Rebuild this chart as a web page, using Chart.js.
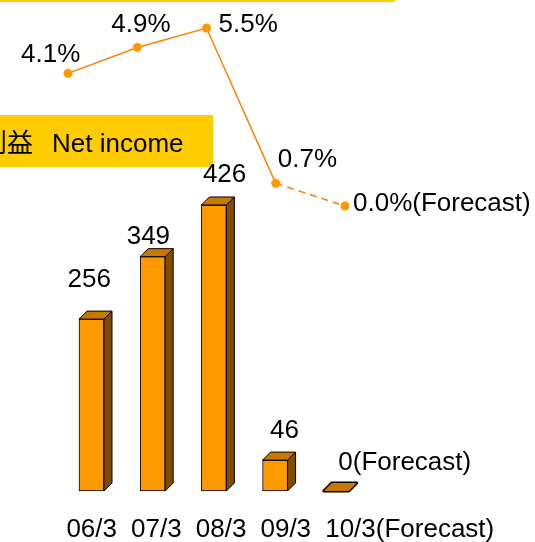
<!DOCTYPE html>
<html>
<head>
<meta charset="utf-8">
<script src="https://cdn.jsdelivr.net/npm/chart.js@4/dist/chart.umd.min.js"></script>
<style>
  body { margin: 0; background: #fff; }
</style>
</head>
<body>
<canvas id="incomeChart" width="535" height="542"></canvas>
<script>
// ---- data ----
const periods = ['06/3', '07/3', '08/3', '09/3', '10/3(Forecast)'];
const netIncome = [256, 349, 426, 46, 0];
const netIncomeText = ['256', '349', '426', '46', '0(Forecast)'];
const margin = [4.1, 4.9, 5.5, 0.7, 0.0];
const marginText = ['4.1%', '4.9%', '5.5%', '0.7%', '0.0%(Forecast)'];
const titleJa = '利益';
const titleEn = 'Net income';

const FONT = '26px "Liberation Sans", Arial, sans-serif';
const FONT_JA = '26px "Noto Sans CJK JP", sans-serif';
const YELLOW = '#FFCC00';

// label offsets (left edge / baseline) relative to each mark, hand placed like the slide
const marginOffsets = [[-47, -11], [-26, -15], [12, 4], [2, -16], [8, 5]];
const barOffsets = [[-24, -32], [-26, -13], [-11, -23], [-5, -22], [2, -21]];
const DEPTH = 8;

const decorations = {
  id: 'decorations',
  beforeDatasetsDraw(chart) {
    const c = chart.ctx;
    c.save();
    c.fillStyle = YELLOW;
    c.fillRect(0, 0, 395, 2);
    c.fillRect(0, 115, 213, 52);
    c.fillStyle = '#000';
    c.textBaseline = 'alphabetic';
    c.font = FONT_JA;
    c.textAlign = 'right';
    c.fillText(titleJa, 33, 152);
    c.font = FONT;
    c.textAlign = 'left';
    c.fillText(titleEn, 52, 152);
    c.restore();
  },
  afterDatasetsDraw(chart) {
    const c = chart.ctx;
    c.save();
    // 3D faces of the bars
    const bars = chart.getDatasetMeta(1).data;
    bars.forEach(b => {
      const L = b.x - b.width / 2, R = b.x + b.width / 2;
      const top = b.y, bottom = b.base;
      const flat = Math.abs(bottom - top) < 1;
      c.lineWidth = flat ? 3 : 1;
      c.strokeStyle = '#000';
      c.lineJoin = 'round';
      if (!flat) {
        c.beginPath();
        c.moveTo(R, top); c.lineTo(R + DEPTH, top - DEPTH);
        c.lineTo(R + DEPTH, bottom - DEPTH); c.lineTo(R, bottom);
        c.closePath();
        c.fillStyle = '#7F4C00';
        c.fill(); c.stroke();
      }
      c.beginPath();
      c.moveTo(L, top); c.lineTo(R, top);
      c.lineTo(R + DEPTH, top - DEPTH); c.lineTo(L + DEPTH, top - DEPTH);
      c.closePath();
      c.fillStyle = '#C87800';
      if (flat) c.stroke();
      c.fill();
      if (!flat) c.stroke();
    });

    c.fillStyle = '#000';
    c.font = FONT;
    c.textAlign = 'left';
    c.textBaseline = 'alphabetic';
    bars.forEach((b, i) => {
      c.fillText(netIncomeText[i], b.x + barOffsets[i][0], b.y + barOffsets[i][1]);
    });
    chart.getDatasetMeta(0).data.forEach((p, i) => {
      c.fillText(marginText[i], p.x + marginOffsets[i][0], p.y + marginOffsets[i][1]);
    });
    // period labels along the bottom
    const xt = chart.scales.xt;
    periods.forEach((t, i) => {
      c.fillText(t, xt.getPixelForValue(i), 537);
    });
    c.restore();
  }
};

const ctx = document.getElementById('incomeChart').getContext('2d');
new Chart(ctx, {
  type: 'bar',
  data: {
    datasets: [
      {
        type: 'line',
        data: margin.map((v, i) => ({ x: i, y: v })),
        xAxisID: 'xl',
        yAxisID: 'yl',
        borderColor: '#FF8000',
        borderWidth: 1.5,
        pointRadius: 4.5,
        pointBorderWidth: 0,
        pointBackgroundColor: '#FF9900',
        tension: 0,
        segment: {
          borderDash: s => s.p1DataIndex === periods.length - 1 ? [7, 5] : undefined
        }
      },
      {
        type: 'bar',
        data: netIncome.map((v, i) => ({ x: i, y: v })),
        xAxisID: 'xb',
        yAxisID: 'yb',
        grouped: false,
        backgroundColor: '#FF9900',
        borderColor: '#000',
        borderWidth: 1,
        borderSkipped: false,
        barThickness: 25,
        maxBarThickness: 25
      }
    ]
  },
  options: {
    responsive: false,
    animation: false,
    layout: { padding: 0, autoPadding: false },
    plugins: { legend: { display: false }, tooltip: { enabled: false } },
    scales: {
      xb: { type: 'linear', display: false, offset: false, min: -1.495, max: 7.247 },
      yb: { type: 'linear', display: false, offset: false, min: -76, max: 731.3 },
      xl: { type: 'linear', display: false, offset: false, min: -0.982, max: 6.744 },
      yl: { type: 'linear', display: false, offset: false, min: -10.383, max: 6.366 },
      xt: { type: 'linear', display: false, offset: false, min: -1.026, max: 7.243 }
    }
  },
  plugins: [decorations]
});
</script>
</body>
</html>
